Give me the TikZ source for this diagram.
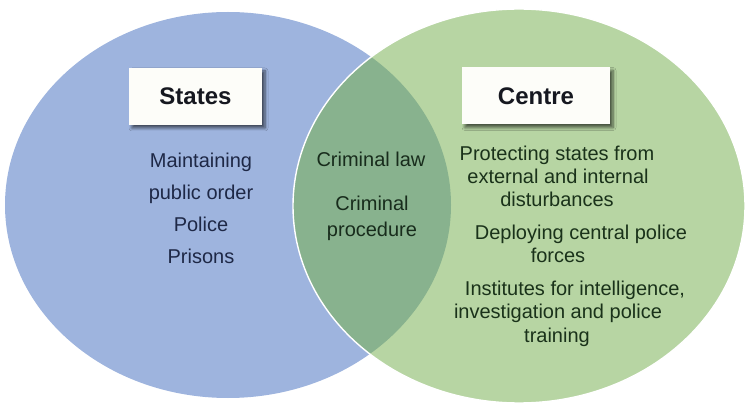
\documentclass[tikz,border=0pt]{standalone}
\usepackage{fontspec}
\setmainfont{Liberation Sans}
\usetikzlibrary{shadows.blur}

\definecolor{statefill}{RGB}{158,180,222}
\definecolor{centrefill}{RGB}{183,213,163}
\definecolor{sharedfill}{RGB}{136,178,142}
\definecolor{statetext}{RGB}{30,40,70}
\definecolor{centretext}{RGB}{26,50,26}
\definecolor{sharedtext}{RGB}{24,44,28}
\definecolor{titletext}{RGB}{22,24,32}
\definecolor{boxfill}{RGB}{253,253,249}

\tikzset{
  titlebox/.style={fill=boxfill, minimum width=#1, minimum height=57pt,
    inner sep=0pt, font=\fontsize{24}{28}\selectfont\bfseries, text=titletext,
    blur shadow={shadow xshift=3pt, shadow yshift=-3pt,
      shadow blur steps=6, shadow opacity=60, shadow blur radius=3pt}},
  stateitem/.style={anchor=base, inner sep=0pt,
    font=\fontsize{20}{22}\selectfont, text=statetext},
  shareditem/.style={anchor=base, inner sep=0pt,
    font=\fontsize{20}{22}\selectfont, text=sharedtext},
  centreitem/.style={anchor=base, inner sep=0pt,
    font=\fontsize{20}{22}\selectfont, text=centretext},
}

\begin{document}
\begin{tikzpicture}[x=1pt, y=-1pt]
  \useasboundingbox (0,0) rectangle (745,406);

  % the two sets
  \fill[statefill] (228,205) ellipse [x radius=223pt, y radius=193pt];
  \fill[centrefill] (519,206) ellipse [x radius=226pt, y radius=197pt];
  % overlap of the two sets
  \begin{scope}
    \clip (519,206) ellipse [x radius=226pt, y radius=197pt];
    \fill[sharedfill] (228,205) ellipse [x radius=223pt, y radius=193pt];
  \end{scope}
  \draw[white, line width=1.4pt] (519,206) ellipse [x radius=226pt, y radius=197pt];

  % headings
  \node[titlebox=133pt] (states) at (195.5,96.5) {States};
  \node[titlebox=148pt] (centre) at (536,96) {Centre};

  % state subjects
  \node[stateitem] (s1) at (201,168) {Maintaining};
  \node[stateitem] (s2) at (201,200) {public order};
  \node[stateitem] (s3) at (201,232) {Police};
  \node[stateitem] (s4) at (201,264) {Prisons};

  % shared subjects
  \node[shareditem] (b1) at (371,167) {Criminal law};
  \node[shareditem] (b2) at (372,211) {Criminal};
  \node[shareditem] (b3) at (372,237) {procedure};

  % centre subjects
  \node[centreitem] (c1) at (557,161) {Protecting states from};
  \node[centreitem] (c2) at (558,184) {external and internal};
  \node[centreitem] (c3) at (557,207) {disturbances};
  \node[centreitem] (c4) at (581,240) {Deploying central police};
  \node[centreitem] (c5) at (558,263) {forces};
  \node[centreitem] (c6) at (575,296) {Institutes for intelligence,};
  \node[centreitem] (c7) at (558,319) {investigation and police};
  \node[centreitem] (c8) at (557,342) {training};
\end{tikzpicture}
\end{document}
